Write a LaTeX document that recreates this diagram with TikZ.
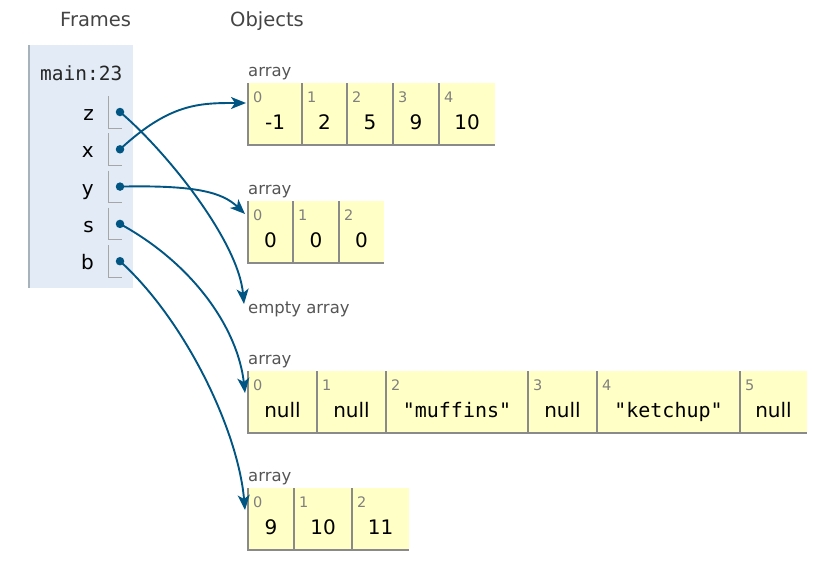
\documentclass[tikz,border=0pt]{standalone}
\usepackage{fontspec}
\setmainfont{DejaVu Sans}
\setmonofont{DejaVu Sans Mono}
\usetikzlibrary{arrows.meta}
\definecolor{framebg}{HTML}{E2EBF6}
\definecolor{framebd}{HTML}{A6B3BA}
\definecolor{cellbg}{HTML}{FFFFC6}
\definecolor{cellbd}{HTML}{8A8A8A}
\definecolor{ptrcol}{HTML}{005583}
\definecolor{lblcol}{HTML}{555555}
\definecolor{idxcol}{HTML}{808080}
\definecolor{txtcol}{HTML}{000000}
\tikzset{
  cell/.style={fill=cellbg, draw=none, inner sep=0pt, outer sep=0pt, anchor=north west, minimum height=62pt},
  cellborder/.style={draw=cellbd, line width=1.3pt},
  idx/.style={inner sep=0pt, text=idxcol, font=\fontsize{14.5}{16}\selectfont},
  val/.style={inner sep=0pt, text=txtcol, font=\fontsize{20}{22}\selectfont},
  lbl/.style={inner sep=0pt, text=lblcol, font=\fontsize{16.5}{18}\selectfont, anchor=base west},
  head/.style={inner sep=0pt, text=lblcol!80!black, font=\fontsize{19.5}{21}\selectfont, anchor=base west},
  varname/.style={inner sep=0pt, text=txtcol, font=\fontsize{20}{22}\selectfont, anchor=base east},
  bracket/.style={draw=gray!70, line width=1pt},
  ptrdot/.style={circle, fill=ptrcol, inner sep=0pt, minimum size=8.5pt},
  ptr/.style={draw=ptrcol, line width=1.9pt, -{Stealth[length=15pt,width=12pt,inset=4pt]}},
}
\newcommand\mkcell[6]{%
  \node[cell, minimum width={(#3-#2)*1pt}] (#1) at (#2,#4) {};
  \draw[cellborder] (#1.north west) -- (#1.south west) -- (#1.south east);
  \node[idx, anchor=base west] (#1i) at ([shift={(5,19.5)}]#1.north west) {#5};
  \node[val, anchor=base] (#1v) at ([shift={(0,46.5)}]#1.north) {#6};
}
\newcommand\mkvar[3]{% name, label, center y
  \node[varname] (#1l) at (94,#3+8.5) {#2};
  \draw[bracket] (108,#3-16) -- (108,#3+16) -- (122,#3+16);
  \node[ptrdot] (#1) at (120,#3) {};
}
\begin{document}
\begin{tikzpicture}[x=1pt,y=-1pt]
\useasboundingbox (0,0) rectangle (826,570);
% headings
\node[head] (hframes) at (60,26.5) {Frames};
\node[head] (hobjects) at (230,26.5) {Objects};
% frame
\fill[framebg] (29,45) rectangle (133,288);
\draw[framebd, line width=1.2pt] (29,45) -- (29,288);
\node[inner sep=0pt, anchor=base west, text=txtcol!85, font=\ttfamily\fontsize{19.5}{21}\selectfont] (fname) at (40,80) {main:23};
\mkvar{dz}{z}{112}
\mkvar{dx}{x}{149.3}
\mkvar{dy}{y}{186.6}
\mkvar{ds}{s}{223.9}
\mkvar{db}{b}{261.2}
% array 1
\node[lbl] (l1) at (248,76) {array};
\mkcell{a1c0}{248}{302}{83}{0}{-1}
\mkcell{a1c1}{302}{347}{83}{1}{2}
\mkcell{a1c2}{347}{393}{83}{2}{5}
\mkcell{a1c3}{393}{439}{83}{3}{9}
\mkcell{a1c4}{439}{495}{83}{4}{10}
% array 2
\node[lbl] (l2) at (248,194) {array};
\mkcell{a2c0}{248}{293}{201}{0}{0}
\mkcell{a2c1}{293}{339}{201}{1}{0}
\mkcell{a2c2}{339}{384}{201}{2}{0}
% empty array
\node[lbl] (l3) at (248,313) {empty array};
% array 4
\node[lbl] (l4) at (248,364) {array};
\mkcell{a4c0}{248}{317}{371}{0}{null}
\mkcell{a4c1}{317}{386}{371}{1}{null}
\mkcell{a4c2}{386}{528}{371}{2}{\ttfamily"muffins"}
\mkcell{a4c3}{528}{597}{371}{3}{null}
\mkcell{a4c4}{597}{740}{371}{4}{\ttfamily"ketchup"}
\mkcell{a4c5}{740}{807}{371}{5}{null}
% array 5
\node[lbl] (l5) at (248,481) {array};
\mkcell{a5c0}{248}{294}{488}{0}{9}
\mkcell{a5c1}{294}{352}{488}{1}{10}
\mkcell{a5c2}{352}{409}{488}{2}{11}
% pointers
\draw[ptr] (dz.center) .. controls (165,150) and (238,240) .. ([shift={(-4,-9)}]l3.base west);
\draw[ptr] (dx.center) .. controls (170,103) and (200,103) .. ([shift={(-2,20)}]a1c0.north west);
\draw[ptr] (dy.center) .. controls (195,185) and (222,192) .. ([shift={(-3,13)}]a2c0.north west);
\draw[ptr] (ds.center) .. controls (195,265) and (238,330) .. ([shift={(-3,22)}]a4c0.north west);
\draw[ptr] (db.center) .. controls (185,320) and (238,430) .. ([shift={(-3,22)}]a5c0.north west);
\end{tikzpicture}
\end{document}
